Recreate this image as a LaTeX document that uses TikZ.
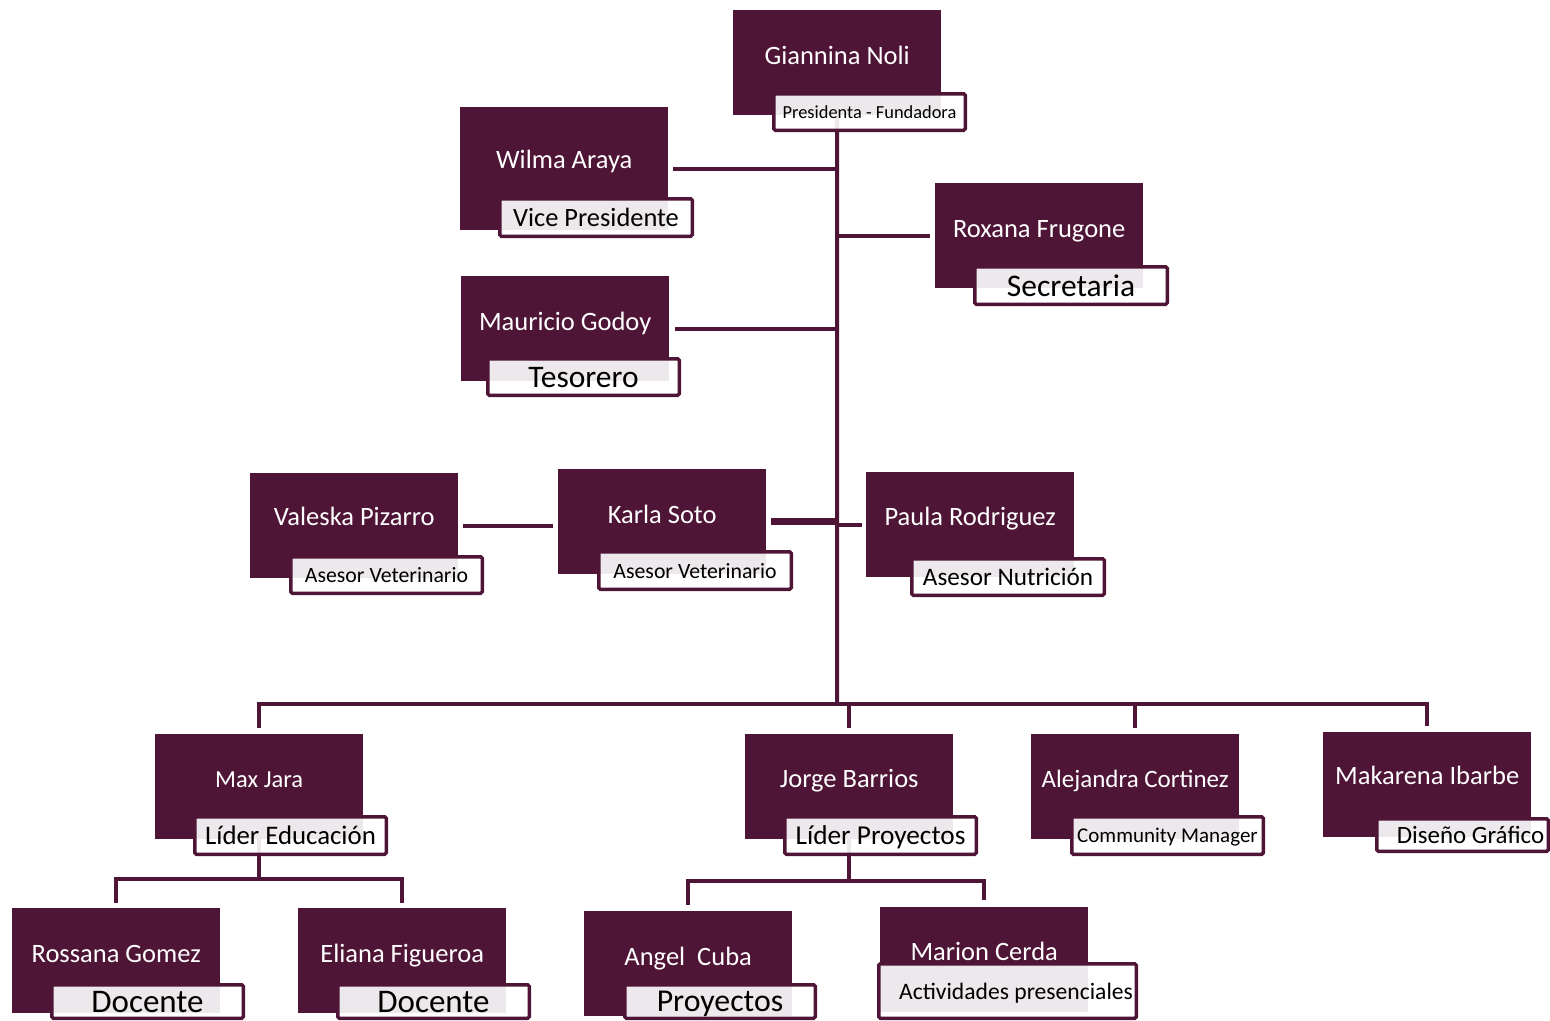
\documentclass[tikz,border=0pt]{standalone}
\usepackage{fontspec}
\setmainfont{Carlito}
\usetikzlibrary{calc, backgrounds}
\definecolor{wine}{RGB}{79, 21, 54}

\tikzset{
  person/.style={fill=wine, anchor=north west, minimum width=208pt, minimum height=105pt, inner sep=0pt},
  pname/.style={text=white, anchor=base, inner sep=0pt, font=\fontsize{26.5}{30}\selectfont},
  role/.style={draw=wine, line width=3.5pt, fill=white, fill opacity=0.9, text opacity=1,
    rounded corners=1.5pt, anchor=north west, minimum width=191.5pt, minimum height=36.5pt,
    inner sep=0pt, text depth=0pt},
  link/.style={draw=wine, line width=4pt},
}

\begin{document}
\begin{tikzpicture}[x=1pt, y=-1pt]
  \useasboundingbox (0,0) rectangle (1550,1020);

  % Board
  \node[person] (gn) at (733,10) {};
  \node[pname] (gnname) at ($(gn.north)+(0,54)$) {Giannina Noli};
  \node[role, font=\fontsize{18.4}{20}\selectfont] (gnrole) at (772,92) {Presidenta - Fundadora};

  \node[person, minimum height=123pt] (wa) at (460,107) {};
  \node[pname] (waname) at ($(wa.north)+(0,61)$) {Wilma Araya};
  \node[role, minimum width=192.5pt, minimum height=37.5pt, font=\fontsize{26.4}{28}\selectfont] (warole) at (498,197) {Vice Presidente};

  \node[person] (rf) at (935,183) {};
  \node[pname] (rfname) at ($(rf.north)+(0,54)$) {Roxana Frugone};
  \node[role, minimum width=192.5pt, minimum height=37.5pt, font=\fontsize{31.5}{32}\selectfont] (rfrole) at (973,265) {Secretaria};

  \node[person] (mg) at (461,276) {};
  \node[pname] (mgname) at ($(mg.north)+(0,54)$) {Mauricio Godoy};
  \node[role, font=\fontsize{31.4}{32}\selectfont] (mgrole) at (486,357) {Tesorero};

  % Advisors
  \node[person] (vp) at (250,473) {};
  \node[pname] (vpname) at ($(vp.north)+(0,52)$) {Valeska Pizarro};
  \node[role, font=\fontsize{21.8}{24}\selectfont] (vprole) at (289,555) {Asesor Veterinario};

  \node[person] (ks) at (558,469) {};
  \node[pname] (ksname) at ($(ks.north)+(0,54)$) {Karla Soto};
  \node[role, minimum width=192.5pt, minimum height=37.5pt, font=\fontsize{21.8}{24}\selectfont] (ksrole) at (597,550) {Asesor Veterinario};

  \node[person] (pr) at (866,472) {};
  \node[pname] (prname) at ($(pr.north)+(0,53)$) {Paula Rodriguez};
  \node[role, minimum width=192.5pt, font=\fontsize{25.2}{28}\selectfont] (prrole) at (910,557) {Asesor Nutrición};

  % Leaders
  \node[person] (mj) at (155,734) {};
  \node[pname, font=\fontsize{24.5}{28}\selectfont] (mjname) at ($(mj.north)+(0,53)$) {Max Jara};
  \node[role, minimum height=37.5pt, font=\fontsize{26.8}{28}\selectfont] (mjrole) at (193,815) {Líder Educación};

  \node[person] (jb) at (745,734) {};
  \node[pname] (jbname) at ($(jb.north)+(0,53)$) {Jorge Barrios};
  \node[role, minimum height=37.5pt, font=\fontsize{27.3}{28}\selectfont] (jbrole) at (783,815) {Líder Proyectos};

  \node[person] (ac) at (1031,734) {};
  \node[pname, font=\fontsize{25}{28}\selectfont] (acname) at ($(ac.north)+(0,53)$) {Alejandra Cortinez};
  \node[role, minimum height=37.5pt, font=\fontsize{21}{24}\selectfont] (acrole) at (1070,815) {Community Manager};

  \node[person] (mi) at (1323,732) {};
  \node[pname] (miname) at ($(mi.north)+(0,52)$) {Makarena Ibarbe};
  \node[role, minimum width=171.5pt, minimum height=32.5pt, font=\fontsize{24.9}{26}\selectfont] (mirole) at (1375,817) {\hspace*{16pt}Diseño Gráfico};

  % Teams
  \node[person] (rg) at (12,908) {};
  \node[pname] (rgname) at ($(rg.north)+(0,54)$) {Rossana Gomez};
  \node[role, minimum height=33.5pt, font=\fontsize{33}{34}\selectfont] (rgrole) at (50,983) {Docente};

  \node[person] (ef) at (298,908) {};
  \node[pname] (efname) at ($(ef.north)+(0,54)$) {Eliana Figueroa};
  \node[role, minimum height=33.5pt, font=\fontsize{33}{34}\selectfont] (efrole) at (336,983) {Docente};

  \node[person] (cu) at (584,911) {};
  \node[pname] (cuname) at ($(cu.north)+(0,54)$) {Angel\ \ Cuba};
  \node[role, minimum width=190.5pt, minimum height=33.5pt, font=\fontsize{31.8}{32}\selectfont] (curole) at (623,983) {Proyectos};

  \node[person] (mc) at (880,907) {};
  \node[pname] (mcname) at ($(mc.north)+(0,53)$) {Marion Cerda};
  \node[role, minimum width=257.5pt, minimum height=54.5pt, font=\fontsize{23.6}{26}\selectfont] (mcrole) at (877,962) {\hspace*{17pt}Actividades presenciales};

  \coordinate (bus) at (837,704);
  \coordinate (edu) at (259,879);
  \coordinate (proj) at (849,881);

  % Connectors
  \begin{scope}[on background layer]
    \draw[link] (gn.south) -- (bus);
    \draw[link, shorten <=5pt] (wa.east) -- (wa.east -| gn.south);
    \draw[link, shorten >=5pt] (rf.west -| gn.south) -- (rf.west);
    \draw[link, shorten <=6pt] (mg.east) -- (mg.east -| gn.south);
    \draw[link, shorten <=5pt, shorten >=5pt] (vp.east) -- (vp.east -| ks.west);
    \draw[link, line width=7pt, shorten <=5pt] (ks.east) -- (ks.east -| gn.south);
    \draw[link, shorten >=4pt] (pr.west -| gn.south) -- (pr.west);

    \draw[link, shorten <=6pt, shorten >=6pt] (mj.north) -- (mj.north |- bus) -- (mi.north |- bus) -- (mi.north);
    \foreach \lead in {jb, ac}
      \draw[link, shorten >=6pt] (\lead.north |- bus) -- (\lead.north);

    \draw[link] (mj.south) -- (mj.south |- edu);
    \draw[link, shorten <=5pt, shorten >=5pt] (rg.north) -- (rg.north |- edu) -- (ef.north |- edu) -- (ef.north);

    \draw[link] (jb.south) -- (jb.south |- proj);
    \draw[link, shorten <=6pt, shorten >=7pt] (cu.north) -- (cu.north |- proj) -- (mc.north |- proj) -- (mc.north);
  \end{scope}
\end{tikzpicture}
\end{document}
